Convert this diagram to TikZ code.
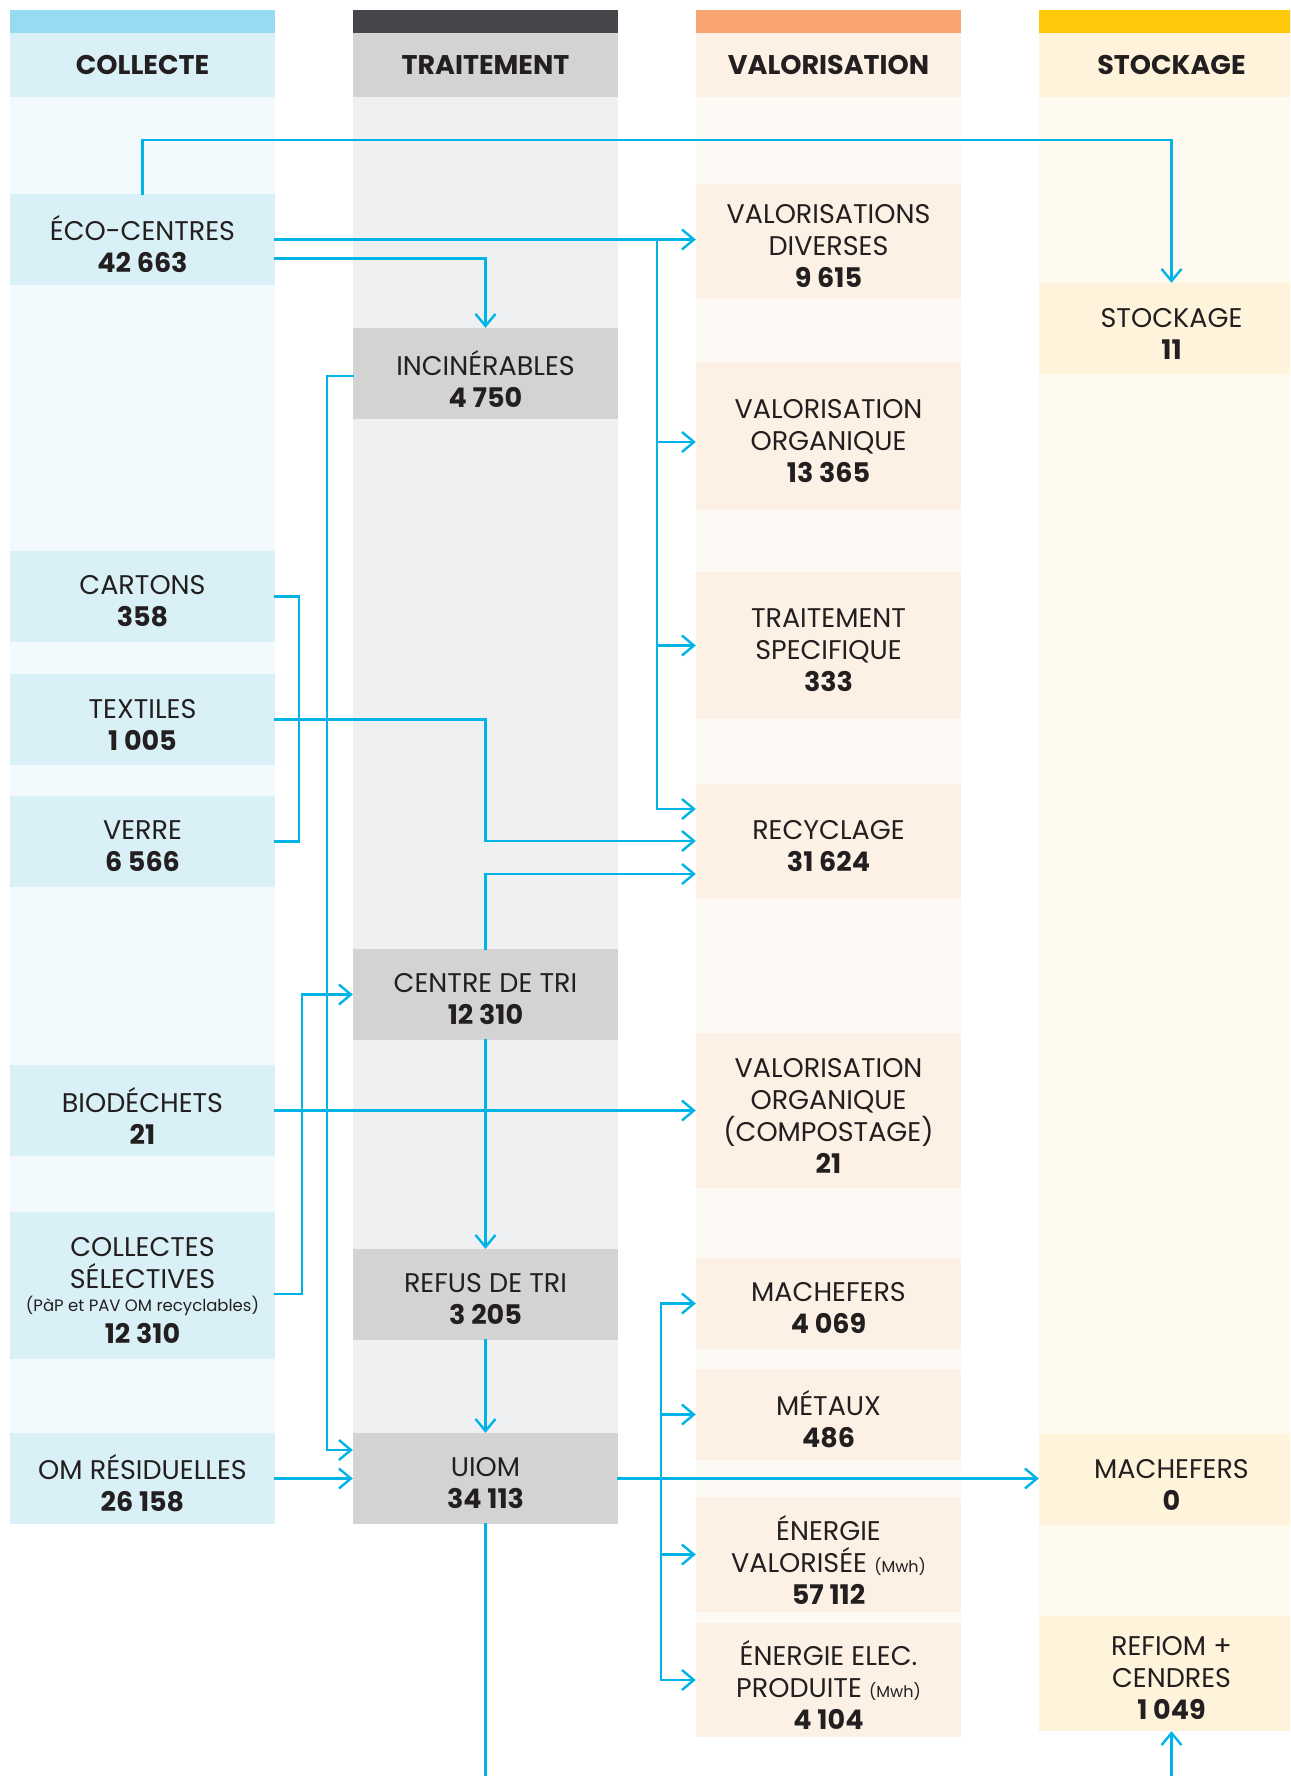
\documentclass[tikz,border=0pt]{standalone}
\usepackage{fontspec}
\setmainfont{Poppins}
\usetikzlibrary{arrows.meta,calc}
\definecolor{cBar}{HTML}{97DBF2}
\definecolor{cHead}{HTML}{D9F0F7}
\definecolor{cBody}{HTML}{F2FAFD}
\definecolor{tBar}{HTML}{45474B}
\definecolor{tHead}{HTML}{D3D3D3}
\definecolor{tBody}{HTML}{EFF0F1}
\definecolor{vBar}{HTML}{F9A572}
\definecolor{vHead}{HTML}{FDF0E4}
\definecolor{vBody}{HTML}{FDF9F4}
\definecolor{sBar}{HTML}{FFC80B}
\definecolor{sHead}{HTML}{FFF3DB}
\definecolor{sBody}{HTML}{FFFAF0}
\definecolor{flowc}{HTML}{00B4E8}
\definecolor{txt}{HTML}{231F20}
\newcommand\lbl{\fontsize{27}{32}\selectfont}
\newcommand\hdr{\fontsize{27}{32}\selectfont\bfseries}
\newcommand\smalltxt{\fontsize{16.5}{20}\selectfont}
\newcommand\mwh{\fontsize{16}{20}\selectfont}
\newcommand\vv[1]{\textbf{#1}}
\newcommand\boxtext[2]{\node[lbltxt] (#1-t) at ([yshift=-5pt]#1.center) {#2};}
\tikzset{
  box/.style={minimum width=265pt, inner sep=0pt},
  cbox/.style={box, fill=cHead},
  tbox/.style={box, fill=tHead},
  vbox/.style={box, fill=vHead},
  sbox/.style={box, fill=sHead},
  lbltxt/.style={align=center, font=\lbl, text=txt, inner sep=0pt},
  hdrtxt/.style={font=\hdr, text=txt, inner sep=0pt},
  flow/.style={draw=flowc, line width=2.4pt, line cap=rect},
  arr/.style={flow, -{Straight Barb[length=12pt,width=20pt]}},
}
\begin{document}
\begin{tikzpicture}[x=1pt,y=-1pt]
\useasboundingbox (0,0) rectangle (1290,1776);
\clip (0,0) rectangle (1290,1776);
% columns
\fill[cBar] (10,10) rectangle (275,33);
\fill[cHead] (10,33) rectangle (275,97);
\fill[cBody] (10,97) rectangle (275,1524);
\fill[tBar] (353,10) rectangle (618,33);
\fill[tHead] (353,33) rectangle (618,97);
\fill[tBody] (353,97) rectangle (618,1524);
\fill[vBar] (696,10) rectangle (961,33);
\fill[vHead] (696,33) rectangle (961,97);
\fill[vBody] (696,97) rectangle (961,1737);
\fill[sBar] (1039,10) rectangle (1304,33);
\fill[sHead] (1039,33) rectangle (1304,97);
\fill[sBody] (1039,97) rectangle (1304,1731);
\node[hdrtxt] (h1) at (142.5,65) {COLLECTE};
\node[hdrtxt] (h2) at (485.5,65) {TRAITEMENT};
\node[hdrtxt] (h3) at (828.5,65) {VALORISATION};
\node[hdrtxt] (h4) at (1171.5,65) {STOCKAGE};
% collecte
\node[cbox, minimum height=91pt] (eco) at (142.5,239.5) {};
\boxtext{eco}{ÉCO-CENTRES\\\vv{42 663}}
\node[cbox, minimum height=91pt] (cartons) at (142.5,596.5) {};
\boxtext{cartons}{CARTONS\\\vv{358}}
\node[cbox, minimum height=91pt] (textiles) at (142.5,719.5) {};
\boxtext{textiles}{TEXTILES\\\vv{1 005}}
\node[cbox, minimum height=91pt] (verre) at (142.5,841.5) {};
\boxtext{verre}{VERRE\\\vv{6 566}}
\node[cbox, minimum height=91pt] (bio) at (142.5,1110.5) {};
\boxtext{bio}{BIODÉCHETS\\\vv{21}}
\node[cbox, minimum height=147pt] (colsel) at (142.5,1285.5) {};
\boxtext{colsel}{COLLECTES\\SÉLECTIVES\\[-9pt]{\smalltxt (PàP et PAV OM recyclables)}\\[0pt]\vv{12 310}}
\node[cbox, minimum height=91pt] (omr) at (142.5,1478.5) {};
\boxtext{omr}{OM RÉSIDUELLES\\\vv{26 158}}
% traitement
\node[tbox, minimum height=91pt] (incin) at (485.5,373.5) {};
\boxtext{incin}{INCINÉRABLES\\\vv{4 750}}
\node[tbox, minimum height=91pt] (cdt) at (485.5,994.5) {};
\boxtext{cdt}{CENTRE DE TRI\\\vv{12 310}}
\node[tbox, minimum height=91pt] (refus) at (485.5,1294.5) {};
\boxtext{refus}{REFUS DE TRI\\\vv{3 205}}
\node[tbox, minimum height=91pt] (uiom) at (485.5,1478.5) {};
\boxtext{uiom}{UIOM\\\vv{34 113}}
% valorisation
\node[vbox, minimum height=115pt] (valdiv) at (828.5,241.5) {};
\boxtext{valdiv}{VALORISATIONS\\DIVERSES\\\vv{9 615}}
\node[vbox, minimum height=148pt] (valorg) at (828.5,436) {};
\boxtext{valorg}{VALORISATION\\ORGANIQUE\\\vv{13 365}}
\node[vbox, minimum height=147pt] (trspec) at (828.5,645.5) {};
\boxtext{trspec}{TRAITEMENT\\SPECIFIQUE\\\vv{333}}
\node[vbox, minimum height=114pt] (recyc) at (828.5,841) {};
\boxtext{recyc}{RECYCLAGE\\\vv{31 624}}
\node[vbox, minimum height=155pt] (compost) at (828.5,1110.5) {};
\boxtext{compost}{VALORISATION\\ORGANIQUE\\(COMPOSTAGE)\\\vv{21}}
\node[vbox, minimum height=91pt] (mach) at (828.5,1303.5) {};
\boxtext{mach}{MACHEFERS\\\vv{4 069}}
\node[vbox, minimum height=91pt] (metaux) at (828.5,1414.5) {};
\boxtext{metaux}{MÉTAUX\\\vv{486}}
\node[vbox, minimum height=115pt] (enval) at (828.5,1554.5) {};
\boxtext{enval}{ÉNERGIE\\VALORISÉE {\mwh(Mwh)}\\\vv{57 112}}
\node[vbox, minimum height=114pt] (enelec) at (828.5,1680) {};
\boxtext{enelec}{ÉNERGIE ELEC.\\PRODUITE {\mwh(Mwh)}\\\vv{4 104}}
% stockage
\node[sbox, minimum height=91pt] (stock) at (1171.5,328.5) {};
\boxtext{stock}{STOCKAGE\\\vv{11}}
\node[sbox, minimum height=91pt] (machst) at (1171.5,1479.5) {};
\boxtext{machst}{MACHEFERS\\\vv{0}}
\node[sbox, minimum height=115pt] (refiom) at (1171.5,1673.5) {};
\boxtext{refiom}{REFIOM +\\CENDRES\\\vv{1 049}}
\coordinate (bottom) at (0,1776);
% connectors
\draw[arr] (eco.north) -- ++(0,-54) -| (stock.north);
\draw[arr] (eco.east) -- (eco.east -| valdiv.west);
\draw[arr] ($(eco.east)+(382,0)$) |- ($(recyc.west)+(0,-32)$);
\draw[arr] ($(valorg.west)+(-39,6)$) -- ($(valorg.west)+(0,6)$);
\draw[arr] ([xshift=-39pt]trspec.west) -- (trspec.west);
\draw[arr] ($(eco.east)+(0,19)$) -| (incin.north);
\draw[arr] ($(incin.west)+(0,2.5)$) -- ++(-26,0) |- ($(uiom.west)+(0,-28.5)$);
\draw[flow] (cartons.east) -- ++(24,0) |- (verre.east);
\draw[arr] (textiles.east) -| (cdt.north |- recyc.west) -- (recyc.west);
\draw[arr] (cdt.north) |- ($(recyc.west)+(0,33)$);
\draw[arr] ($(colsel.east)+(0,8.5)$) -- ++(27,0) |- (cdt.west);
\draw[arr] (bio.east) -- (bio.east -| compost.west);
\draw[arr] (cdt.south) -- (refus.north);
\draw[arr] (refus.south) -- (uiom.north);
\draw[arr] (omr.east) -- (uiom.west);
\draw[arr] (uiom.east) -- (uiom.east -| machst.west);
\draw[arr] ([xshift=-35pt]enelec.west) -- ([xshift=-35pt]mach.west) -- (mach.west);
\draw[arr] ([xshift=-35pt]enelec.west) -- (enelec.west);
\draw[arr] ([xshift=-35pt]metaux.west) -- (metaux.west);
\draw[arr] ([xshift=-35pt]enval.west) -- (enval.west);
\draw[flow] (uiom.south) -- (uiom.south |- bottom);
\draw[arr] (refiom.south |- bottom) -- (refiom.south);
\end{tikzpicture}
\end{document}
